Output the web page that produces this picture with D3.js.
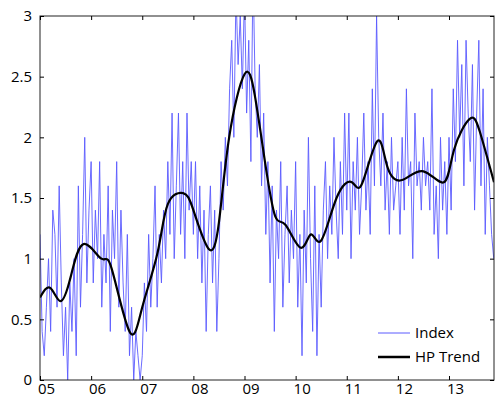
<!DOCTYPE html>
<html><head><meta charset="utf-8">
<script src="https://cdn.jsdelivr.net/npm/d3@7"></script>
<style>body{margin:0;background:#fff}text{font-family:"Open Sans",sans-serif}</style>
</head><body><div id="chart-area"></div>
<script>
// data: Index sampled twice a month from 2005.0
let indexVals = [
 1.2,0.4,0.2,0.6,1.0,0.4,1.4,1.2,0.6,1.6,0.8,0.2,0.6,0.0,0.8,0.4,1.0,0.2,1.6,0.6,1.2,2.0,0.8,1.4,
 1.8,0.8,1.4,1.0,1.8,0.6,1.2,0.8,1.6,0.4,1.4,1.0,1.8,0.6,1.4,0.8,0.4,1.2,0.2,0.6,0.0,0.4,0.2,0.0,
 0.2,0.8,0.4,1.2,0.6,1.0,1.6,0.6,1.2,0.8,1.4,1.0,1.8,1.2,2.2,1.0,1.6,2.2,1.2,1.8,1.0,2.2,1.4,1.8,
 1.2,1.8,1.0,1.6,0.8,1.4,0.4,1.2,1.6,0.8,1.4,0.4,1.0,1.8,1.4,2.0,1.6,2.4,2.8,2.0,3.2,2.6,3.0,2.4,
 3.2,2.2,2.8,1.8,3.4,2.4,2.0,2.6,1.6,2.2,1.2,1.8,0.8,1.6,0.4,1.4,1.0,1.8,0.6,1.2,1.6,0.8,1.4,1.0,
 1.8,0.6,1.2,0.2,1.4,0.8,2.0,1.0,0.4,1.6,0.2,1.2,0.6,1.4,1.8,1.0,1.6,1.2,2.0,1.4,1.0,1.8,1.2,2.2,
 1.4,2.2,1.0,1.8,1.4,2.0,1.2,1.6,2.2,1.4,1.8,1.2,2.4,1.6,3.0,2.0,1.6,2.2,1.4,1.8,1.2,2.0,1.4,1.6,
 1.8,1.2,2.0,1.4,2.4,1.6,1.8,1.0,2.2,1.6,1.8,1.4,2.0,1.6,1.8,1.4,2.4,1.2,1.6,1.0,2.0,1.4,1.8,1.2,
 2.0,1.4,2.4,1.8,2.8,2.0,2.6,1.6,2.8,2.2,1.8,2.6,1.4,2.2,2.8,1.6,2.4,1.2,2.0,1.6,1.2,1.0
];
let trendX = [2005.0,2005.2,2005.4,2005.6,2005.85,2006.2,2006.4,2006.75,2007.0,2007.3,2007.5,2007.8,2008.0,2008.3,2008.5,2008.7,2009.0,2009.2,2009.4,2009.6,2009.8,2010.1,2010.3,2010.5,2010.8,2011.1,2011.3,2011.6,2011.8,2012.1,2012.5,2012.9,2013.1,2013.4,2013.6,2013.88];
let trendY = [0.68,0.76,0.65,0.85,1.12,1.0,0.92,0.4,0.6,1.05,1.45,1.54,1.4,1.08,1.3,2.0,2.52,2.35,1.8,1.35,1.28,1.09,1.2,1.15,1.5,1.63,1.62,1.97,1.75,1.65,1.72,1.63,1.9,2.15,2.05,1.63];
let yearTicks = [2005,2006,2007,2008,2009,2010,2011,2012,2013];
let yTicks = [0,0.5,1,1.5,2,2.5,3];

let margin = {top: 16, right: 1, bottom: 20, left: 40};
let width = 495 - margin.left - margin.right,
    height = 400 - margin.top - margin.bottom;

let svg = d3.select("#chart-area").append("svg")
    .attr("width", 495).attr("height", 400)
    .append("g")
    .attr("transform", "translate(" + margin.left + "," + margin.top + ")");

let x = d3.scaleLinear().domain([2005, 2013.88]).range([0, width]);
let y = d3.scaleLinear().domain([0, 3]).range([height, 0]);

svg.append("clipPath").attr("id", "clip")
  .append("rect").attr("width", width).attr("height", height);

let plot = svg.append("g").attr("clip-path", "url(#clip)");

plot.append("path")
  .datum(indexVals)
  .attr("fill", "none")
  .attr("stroke", "#5a5aff")
  .attr("stroke-width", 0.9)
  .attr("d", d3.line().x((d, i) => x(2005 + i / 24)).y(d => y(d)));

plot.append("path")
  .datum(trendX.map((d, i) => [d, trendY[i]]))
  .attr("fill", "none")
  .attr("stroke", "#000")
  .attr("stroke-width", 2.2)
  .attr("d", d3.line().x(d => x(d[0])).y(d => y(d[1])).curve(d3.curveNatural));

// frame
svg.append("rect").attr("width", width).attr("height", height)
  .attr("fill", "none").attr("stroke", "#222").attr("stroke-width", 1);

// axes with inward ticks
let fmt = d => String(d % 100).padStart(2, "0");
svg.append("g").attr("transform", "translate(0," + height + ")")
  .call(d3.axisBottom(x).tickValues(yearTicks).tickSize(-4).tickPadding(3).tickFormat(fmt))
  .call(g => g.select(".domain").remove())
  .call(g => g.selectAll("text").attr("dx", 6).style("font-size", "15px"));
svg.append("g")
  .call(d3.axisTop(x).tickValues(yearTicks).tickSize(-4).tickFormat(""))
  .call(g => g.select(".domain").remove());
svg.append("g")
  .call(d3.axisLeft(y).tickValues(yTicks).tickSize(-4).tickPadding(8).tickFormat(d3.format("")))
  .call(g => g.select(".domain").remove())
  .call(g => g.selectAll("text").style("font-size", "15px"));
svg.append("g").attr("transform", "translate(" + width + ",0)")
  .call(d3.axisRight(y).tickValues(yTicks).tickSize(-4).tickFormat(""))
  .call(g => g.select(".domain").remove());

// legend
let legend = [["Index", "#5a5aff", 1], ["HP Trend", "#000", 2.5]];
legend.forEach((l, i) => {
  let ly = 317 + i * 24;
  svg.append("line").attr("x1", 338).attr("x2", 370).attr("y1", ly).attr("y2", ly)
    .attr("stroke", l[1]).attr("stroke-width", l[2]);
  svg.append("text").attr("x", 375).attr("y", ly + 5).style("font-size", "15px").text(l[0]);
});
</script></body></html>
